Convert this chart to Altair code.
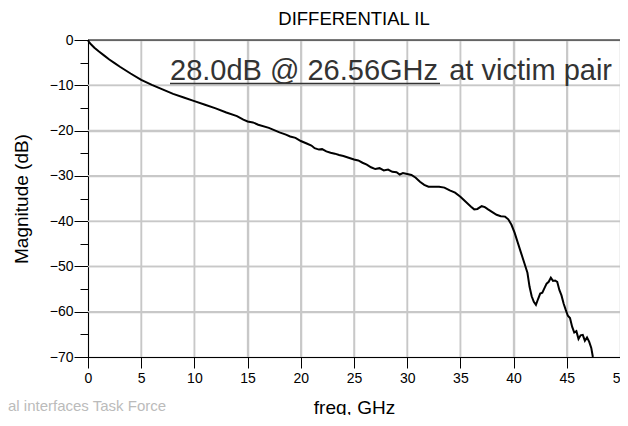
import altair as alt
import pandas as pd

freq = [0, 0.1, 0.3, 0.6, 1, 1.5, 2, 2.5, 3, 4, 5, 6, 7, 8, 9, 10, 11, 12, 13, 14,
        14.6, 15, 15.5, 16, 17, 18, 18.6, 19, 19.5, 20, 20.5, 21, 21.3, 21.7, 22,
        22.4, 22.8, 23.2, 23.6, 24, 24.5, 25, 25.4, 25.8, 26.2, 26.6, 27, 27.4,
        27.8, 28.2, 28.6, 29, 29.3, 29.6, 30, 30.4, 30.8, 31.2, 31.6, 32, 32.5,
        33, 33.5, 34, 34.5, 35, 35.5, 36, 36.3, 36.6, 37, 37.3, 37.6, 38, 38.4,
        38.8, 39.2, 39.5, 39.8, 40.1, 40.4, 40.7, 41.0, 41.3, 41.5, 41.7, 41.9,
        42.1, 42.3, 42.5, 42.7, 42.9, 43.1, 43.3, 43.5, 43.7, 43.9, 44.1, 44.3,
        44.5, 44.7, 44.9, 45.1, 45.3, 45.5, 45.7, 45.9, 46.1, 46.3, 46.5, 46.7,
        46.9, 47.1, 47.3, 47.45]
mag = [0, -0.5, -1.0, -1.7, -2.5, -3.4, -4.3, -5.1, -5.9, -7.4, -8.8, -9.9, -10.9,
       -11.9, -12.7, -13.5, -14.3, -15.1, -16.0, -16.8, -17.6, -18.0, -18.2, -18.7,
       -19.4, -20.4, -20.9, -21.3, -21.6, -22.3, -22.8, -23.3, -23.9, -24.2, -24.1,
       -24.6, -24.9, -25.1, -25.4, -25.6, -26.0, -26.4, -26.6, -27.1, -27.5, -28.1,
       -28.5, -28.3, -28.8, -28.6, -29.1, -29.2, -29.7, -29.4, -29.6, -29.8, -30.4,
       -31.3, -32.0, -32.4, -32.4, -32.4, -32.6, -33.2, -33.7, -34.6, -35.7, -36.8,
       -37.4, -37.3, -36.7, -36.9, -37.4, -38.0, -38.6, -38.9, -39.0, -39.6, -40.8,
       -42.6, -44.8, -47.0, -49.2, -51.4, -54.5, -56.6, -57.8, -58.5, -57.2, -56.0,
       -55.8, -54.8, -53.8, -53.4, -52.5, -53.2, -53.1, -53.4, -55.2, -56.4, -58.2,
       -59.6, -60.9, -61.4, -63.3, -64.6, -64.3, -66.0, -65.2, -65.1, -66.4, -65.7,
       -66.6, -68.0, -70.0]

x_ticks = [0, 5, 10, 15, 20, 25, 30, 35, 40, 45, 50]
# major (labelled) every 10 dB, minor ticks in between
y_ticks = [-70, -65, -60, -55, -50, -45, -40, -35, -30, -25, -20, -15, -10, -5, 0]
x_grid = [5, 10, 15, 20, 25, 30, 35, 40, 45]
y_grid = [-60, -50, -40, -30, -20, -10]
x_range = [0, 50]
y_range = [-70, 0]

title_text = "DIFFERENTIAL IL"
note_main = "28.0dB @ 26.56GHz"
note_tail = "at victim pair"
watermark = "al interfaces Task Force"

df = pd.DataFrame({"freq": freq, "mag": mag})

# grid segments built from the tick lists (two end points per line)
g_rows = []
for gx in x_grid:
    for yv in y_range:
        g_rows.append({"freq": gx, "mag": yv, "g": f"v{gx}"})
for gy in y_grid:
    for xv in x_range:
        g_rows.append({"freq": xv, "mag": gy, "g": f"h{gy}"})
grid_df = pd.DataFrame(g_rows)
one = pd.DataFrame({"a": [0]})

FONT = "Liberation Sans"
MAJOR = "datum.value % 10 == 0"
GRID = "#c8c8c8"

xscale = alt.Scale(domain=x_range, nice=False, zero=False)
yscale = alt.Scale(domain=y_range, nice=False, zero=False)

y_axis = alt.Axis(
    values=y_ticks, title="Magnitude (dB)",
    tickSize={"condition": {"test": MAJOR, "value": 14}, "value": 8},
    gridOpacity={"condition": {"test": MAJOR, "value": 1}, "value": 0},
    labelExpr="datum.value % 10 == 0 ? datum.label : ''",
    labelPadding=1, titlePadding=18, titleFontSize=19, grid=True)
x_axis = alt.Axis(values=x_ticks, title="freq, GHz", tickSize=11,
                  labelPadding=3, titlePadding=13, titleFontSize=19,
                  labelFlush=False, grid=True)

grid = alt.Chart(grid_df).mark_line(color=GRID, strokeWidth=1.5).encode(
    x=alt.X("freq:Q", scale=xscale, axis=x_axis),
    y=alt.Y("mag:Q", scale=yscale, axis=y_axis),
    detail="g:N",
)

line = alt.Chart(df).mark_line(color="black", strokeWidth=2).encode(
    x=alt.X("freq:Q", scale=xscale, axis=x_axis),
    y=alt.Y("mag:Q", scale=yscale, axis=y_axis),
)

top_rule = alt.Chart(one).mark_rule(color="black", strokeWidth=1).encode(
    x=alt.value(0), x2=alt.value(532), y=alt.value(0)
)

title = alt.Chart(one).mark_text(text=title_text, font=FONT, fontSize=18.5,
                                 align="center", baseline="alphabetic",
                                 color="black").encode(
    x=alt.value(266), y=alt.value(-15))

note1 = alt.Chart(one).mark_text(text=note_main, font=FONT, fontSize=29,
                                 align="left", baseline="alphabetic",
                                 color="#333333").encode(
    x=alt.value(82), y=alt.value(40))
underline = alt.Chart(one).mark_rule(color="#333333", strokeWidth=1.5).encode(
    x=alt.value(82), x2=alt.value(352), y=alt.value(43.5))
note2 = alt.Chart(one).mark_text(text=note_tail, font=FONT, fontSize=29,
                                 align="right", baseline="alphabetic",
                                 color="#333333").encode(
    x=alt.value(524), y=alt.value(40))

wm = alt.Chart(one).mark_text(text=watermark, font=FONT, fontSize=15,
                              align="left", baseline="alphabetic",
                              color="#bbbbbb").encode(
    x=alt.value(-80), y=alt.value(371))

chart = alt.layer(grid, line, top_rule, title, note1, underline,
                  note2, wm).properties(
    width=532, height=317,
    autosize=alt.AutoSizeParams(type="none"),
    padding={"left": 80, "top": 32, "right": 0, "bottom": 58},
).configure(font=FONT).configure_view(
    stroke="#555555", strokeWidth=1
).configure_axis(
    domainColor="black", tickColor="black", labelColor="black",
    titleColor="black", labelFontSize=14, titleFontSize=17,
    titleFontWeight="normal", labelFont=FONT, titleFont=FONT,
    gridColor=GRID, gridWidth=1.5, domainWidth=1, tickWidth=1,
)

chart.save("out.html", embed_options={"renderer": "svg", "actions": False})
